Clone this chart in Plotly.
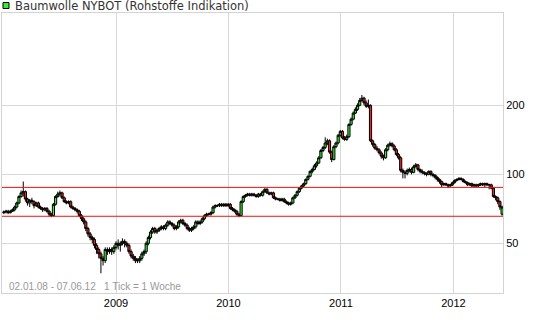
import plotly.graph_objects as go
import pandas as pd

opens = [68, 68.5, 69, 68, 69, 70, 72, 75, 80, 83, 84, 78, 75, 77, 76, 73, 75, 72, 71, 70, 71, 69, 67, 66, 74, 80,
         82, 83, 79, 76, 75, 76, 72, 71, 70, 69, 66, 64, 62, 58, 55, 53, 52, 49, 47, 45, 43, 42, 47, 46, 47, 46,
         48, 50, 49, 50, 51, 50, 49, 46, 44, 43, 42, 42, 43, 45, 46, 50, 53, 56, 58, 56, 57, 58, 59, 58, 60, 62,
         61, 60, 58, 59, 62, 63, 61, 60, 58, 57, 58, 59, 62, 61, 62, 64, 66, 67, 67, 68, 72, 73, 73, 74, 73, 74,
         73, 74, 71, 70, 69, 67, 66, 76, 80, 81, 82, 81, 82, 81, 80, 82, 81, 84, 86, 83, 82, 83, 79, 78, 78, 77,
         78, 76, 75, 74, 75, 79, 81, 84, 87, 89, 91, 95, 98, 103, 105, 109, 112, 118, 127, 131, 137, 140, 125,
         116, 132, 137, 148, 154, 144, 142, 146, 165, 174, 185, 192, 200, 210, 215, 205, 198, 200, 140, 135, 130,
         128, 124, 120, 118, 128, 134, 136, 133, 128, 122, 118, 104, 102, 101, 104, 105, 102, 108, 110, 105, 103,
         102, 101, 100, 103, 100, 99, 97, 95, 93, 90, 91, 90, 89, 90, 92, 94, 95, 96, 95, 93, 92, 90, 91, 89, 90,
         89, 90, 91, 90, 91, 90, 90, 87, 80, 79, 76, 67]
closes = [68.5, 69, 68, 69, 70, 72, 75, 80, 83, 84, 78, 75, 77, 76, 73, 75, 72, 71, 70, 71, 69, 67, 66, 74, 80, 82,
          83, 79, 76, 75, 76, 72, 71, 70, 69, 66, 64, 62, 58, 55, 53, 52, 49, 47, 45, 43, 42, 47, 46, 47, 46, 48,
          50, 49, 50, 51, 50, 49, 46, 44, 43, 42, 42, 43, 45, 46, 50, 53, 56, 58, 56, 57, 58, 59, 58, 60, 62, 61,
          60, 58, 59, 62, 63, 61, 60, 58, 57, 58, 59, 62, 61, 62, 64, 66, 67, 67, 68, 72, 73, 73, 74, 73, 74, 73,
          74, 71, 70, 69, 67, 66, 76, 80, 81, 82, 81, 82, 81, 80, 82, 81, 84, 86, 83, 82, 83, 79, 78, 78, 77, 78,
          76, 75, 74, 75, 79, 81, 84, 87, 89, 91, 95, 98, 103, 105, 109, 112, 118, 127, 131, 137, 140, 125, 116,
          132, 137, 148, 154, 144, 142, 146, 165, 174, 185, 192, 200, 210, 215, 205, 198, 200, 140, 135, 130, 128,
          124, 120, 118, 128, 134, 136, 133, 128, 122, 118, 104, 102, 101, 104, 105, 102, 108, 110, 105, 103, 102,
          101, 100, 103, 100, 99, 97, 95, 93, 90, 91, 90, 89, 90, 92, 94, 95, 96, 95, 93, 92, 90, 91, 89, 90, 89,
          90, 91, 90, 91, 90, 90, 87, 80, 79, 76, 72, 72]
highs = [69.5, 70, 70, 70, 71, 73, 76, 81, 85, 93, 85, 79, 78, 79, 77, 76, 76, 73, 72, 72, 72, 70, 68, 75, 81, 84,
         85, 84, 80, 77, 77, 77, 73, 72, 71, 70, 67, 65, 63, 59, 56, 54, 53, 50, 48, 46, 44, 48, 48, 48, 48, 49,
         51, 52, 51, 52.5, 52, 51, 50, 47, 45, 44, 43, 44, 46, 47, 51, 54, 57, 59, 59, 58, 59, 60, 60, 61, 63, 63,
         62, 61, 60, 63, 64, 64, 62, 61, 59, 59, 60, 63, 63, 63, 65, 67, 68, 68, 69, 73, 74, 74, 75, 75, 75, 75,
         75, 75, 72, 71, 70, 68, 77, 81, 82, 83, 83, 83, 83, 82, 83, 83, 85, 87, 87, 84, 84, 84, 80, 79, 79, 79,
         79, 77, 76, 76, 80, 82, 85, 88, 90, 92, 96, 99, 104, 107, 111, 114, 120, 129, 133, 145, 143, 142, 127,
         134, 139, 150, 156, 156, 147, 149, 167, 177, 188, 196, 204, 215, 222, 218, 210, 212, 202, 142, 137, 133,
         130, 126, 122, 130, 136, 139, 138, 135, 130, 124, 120, 106, 104, 106, 107, 107, 110, 112, 111, 106, 105,
         103, 102, 104, 104, 101, 100, 98, 96, 94, 92, 92, 91, 91, 93, 95, 96, 97, 97, 96, 94, 93, 92, 92, 91, 91,
         91, 92, 92, 92, 92, 91, 91, 88, 81, 80, 77, 73]
lows = [67, 67.5, 67, 67.5, 68.5, 69, 71, 74, 79, 80, 76, 73, 72, 74, 71, 72, 71, 70, 68.5, 69, 68, 65.5, 65, 65.5,
        73, 79, 80, 78, 75, 74, 74, 71, 70, 69, 67.5, 65, 62.5, 60.5, 56.5, 53.5, 51.5, 50, 47.5, 45, 43, 37, 40,
        41, 44.5, 45, 44.5, 45, 47, 47, 46, 49, 48, 48, 45, 43, 42, 41, 41, 41, 42, 44, 45, 49, 52, 55, 55, 55,
        56, 57, 57, 57, 59, 60, 59, 57, 57, 58, 61, 60, 59, 57, 56, 56, 57, 58, 60, 60, 61, 63, 65, 66, 66, 67,
        71, 72, 72, 72, 72, 72, 72, 70, 69, 68, 66, 65, 65.5, 75, 79, 80, 80, 80, 80, 79, 79, 80, 80, 83, 82, 81,
        81, 78, 77, 77, 76, 76, 75, 74, 73, 73, 74, 78, 80, 83, 86, 88, 90, 94, 97, 101, 104, 107, 111, 117, 125,
        129, 134, 123, 113, 115, 130, 135, 146, 142, 140, 140, 144, 163, 172, 183, 189, 198, 207, 200, 195, 194,
        138, 132, 128, 126, 122, 117, 115, 117, 126, 132, 131, 126, 120, 116, 102, 96, 96, 99, 102, 100, 101, 107,
        103, 101, 100, 99, 98, 99, 98, 97, 95, 93, 91, 88, 89, 89, 87, 88, 89, 91, 93, 94, 94, 92, 91, 89, 89, 88,
        88, 88, 88, 89, 89, 88, 89, 86, 86, 79, 77, 74, 70, 66]

year_ticks = ["2009-01-01", "2010-01-01", "2011-01-01", "2012-01-01"]
year_labels = ["2009", "2010", "2011", "2012"]
price_ticks = [50, 100, 200]
ref_lines = [87.7, 65.6]
title_text = "Baumwolle NYBOT (Rohstoffe Indikation)"
note_text = "02.01.08 - 07.06.12   1 Tick = 1 Woche"

dates = pd.date_range(end="2012-06-07", periods=len(closes), freq="7D")

fig = go.Figure()
fig.add_trace(go.Candlestick(
    x=dates, open=opens, high=highs, low=lows, close=closes,
    increasing=dict(fillcolor="#33ee33", line=dict(color="#000000", width=1)),
    decreasing=dict(fillcolor="#ee2222", line=dict(color="#000000", width=1)),
    whiskerwidth=0, showlegend=False, hoverinfo="skip",
))

for v in ref_lines:
    fig.add_shape(type="line", xref="paper", x0=0, x1=1, yref="y", y0=v, y1=v,
                  line=dict(color="#ee1111", width=1), layer="above")

# legend square
fig.add_shape(type="rect", xref="paper", yref="paper",
              x0=(3 - 2) / 501, x1=(9 - 2) / 501, y0=(293 - 8.5) / 280, y1=(293 - 2.5) / 280,
              line=dict(color="#000000", width=1), fillcolor="#33ee33")
fig.add_annotation(text=title_text, xref="paper", yref="paper", x=(12.5 - 2) / 501, y=(293 - 5.5) / 280,
                   xanchor="left", yanchor="middle", showarrow=False,
                   font=dict(family="DejaVu Sans", size=11.5, color="#333333"))
fig.add_annotation(text=note_text, xref="paper", yref="paper", x=(7 - 2) / 501, y=(293 - 286) / 280,
                   xanchor="left", yanchor="middle", showarrow=False,
                   font=dict(family="Liberation Sans, Arial", size=10, color="#999999"))

fig.update_layout(
    width=545, height=327,
    margin=dict(l=2, r=42, t=13, b=34),
    paper_bgcolor="white", plot_bgcolor="white",
    boxgap=0, boxgroupgap=0,
    font=dict(family="Liberation Sans, Arial", size=11, color="#000000"),
    xaxis=dict(
        type="date", range=["2007-12-28", "2012-06-10"],
        tickvals=year_ticks, ticktext=year_labels,
        showgrid=True, gridcolor="#d8d8d8", gridwidth=1,
        showline=True, linecolor="#d3d3d3", linewidth=1, mirror=True,
        ticks="", rangeslider=dict(visible=False), zeroline=False,
        tickfont=dict(size=11, color="#000000"),
    ),
    yaxis=dict(
        type="log", range=[1.4822, 2.7038], side="right",
        tickvals=price_ticks, ticktext=[str(t) for t in price_ticks],
        showgrid=True, gridcolor="#d8d8d8", gridwidth=1,
        showline=True, linecolor="#d3d3d3", linewidth=1, mirror=True,
        ticks="", zeroline=False, ticklabelstandoff=0,
        tickfont=dict(size=11, color="#000000"),
    ),
)

fig.write_html("out.html")
